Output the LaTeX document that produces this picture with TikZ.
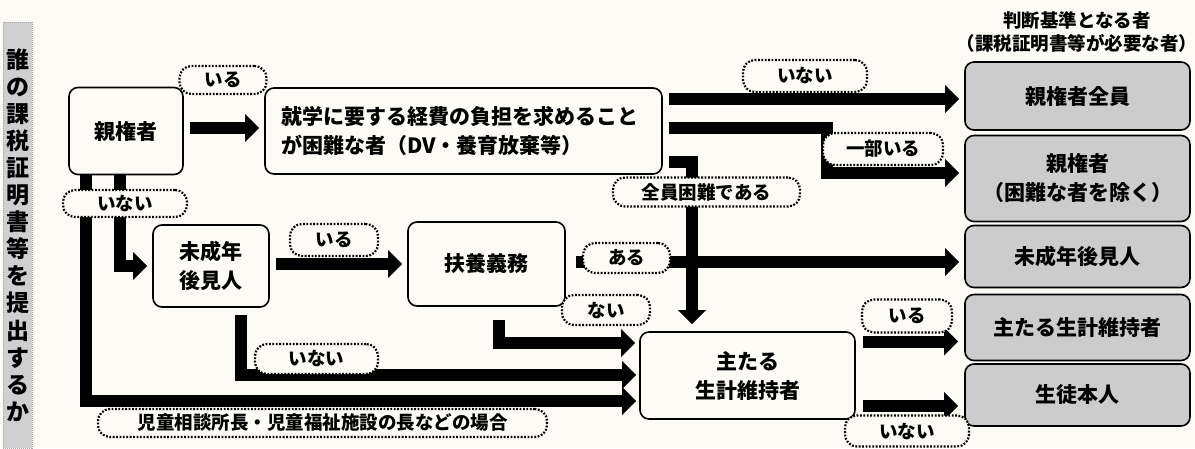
\documentclass[tikz,border=0pt]{standalone}
\usepackage{fontspec}
\setmainfont{Noto Sans CJK JP}
\usetikzlibrary{arrows.meta,calc}
\definecolor{bg}{RGB}{252,251,245}
\definecolor{gboxc}{RGB}{204,204,204}
\begin{document}
\begin{tikzpicture}[x=1pt,y=-1pt,
  box/.style={draw, line width=1.6pt, rounded corners=9pt, fill=bg, align=center, inner sep=0pt, font=\fontsize{21}{29}\selectfont\bfseries},
  gbox/.style={box, fill=gboxc, minimum width=225pt},
  lab/.style={draw, line width=2.2pt, dash pattern=on 1.8pt off 1.6pt, rounded corners=12pt, fill=bg, inner sep=0pt, font=\fontsize{18.5}{20}\selectfont\bfseries},
  arr/.style={line width=12pt, line join=miter, -{Triangle[length=14pt,width=28pt,line width=0pt]}},
]
\fill[bg] (0,0) rectangle (1195,448);
\useasboundingbox (0,0) rectangle (1195,448);

% side bar
\node[draw=gray!70, line width=1pt, dash pattern=on 1pt off 1pt, fill=gray!38, minimum width=29pt, minimum height=426pt, inner sep=0pt, align=center, font=\fontsize{23}{27.1}\selectfont\bfseries] (side) at (17.5,235) {誰\\の\\課\\税\\証\\明\\書\\等\\を\\提\\出\\す\\る\\か};

% header
\node[align=center, inner sep=0pt, font=\fontsize{18.5}{23}\selectfont\bfseries] (head) at (1077,32) {判断基準となる者\\（課税証明書等が必要な者）};

% boxes
\node[box, minimum width=114pt, minimum height=87pt] (oya) at (126,131) {親権者};
\node[box, minimum width=397pt, minimum height=86pt, text width=365pt, align=left] (konnan) at (463.5,131) {就学に要する経費の負担を求めること\\が困難な者（DV・養育放棄等）};
\node[box, minimum width=116pt, minimum height=82pt] (mise) at (211,266) {未成年\\後見人};
\node[box, minimum width=157pt, minimum height=84pt] (fuyo) at (486.5,264) {扶養義務};
\node[box, minimum width=215pt, minimum height=87pt] (shu) at (747.5,375.5) {主たる\\生計維持者};

\node[gbox, minimum height=68pt] (r1) at (1077.5,96) {親権者全員};
\node[gbox, minimum height=86pt] (r2) at (1077.5,178.5) {親権者\\（困難な者を除く）};
\node[gbox, minimum height=62pt] (r3) at (1077.5,256.5) {未成年後見人};
\node[gbox, minimum height=66pt] (r4) at (1077.5,327.5) {主たる生計維持者};
\node[gbox, minimum height=62pt] (r5) at (1077.5,395) {生徒本人};

% bend points
\coordinate (c1) at (827,128);
\coordinate (c2) at (827,173);
\coordinate (c3) at (692,162);
\coordinate (c4) at (120,266);
\coordinate (c5) at (86,401);
\coordinate (c6) at (499,343);
\coordinate (c7) at (241,375);

% connectors
\draw[arr] ($(oya.east)+(6,-3)$) -- ($(konnan.west)+(-5,-3)$);
\draw[arr] ($(konnan.east)+(6,-32)$) -- ($(konnan.east -| r1.west)+(-5,-32)$);
\draw[arr] ($(konnan.east)+(6,-3)$) -- (c1) -- (c2) -- ($(c2 -| r2.west)+(-5,0)$);
\draw[arr] ($(konnan.east |- c3)+(6,0)$) -- (c3) -- ($(c3 |- shu.north)+(0,-7)$);
\draw[arr] (oya.south -| c4) -- (c4) -- ($(mise.west)+(-5,0)$);
\draw[arr] (oya.south -| c5) -- (c5) -- ($(c5 -| shu.west)+(-3,0)$);
\draw[arr] ($(mise.east)+(6,-2)$) -- ($(fuyo.west)+(-5,0)$);
\draw[arr] ($(fuyo.east)+(10,-2)$) -- ($(fuyo.east -| r3.west)+(-5,-2)$);
\draw[arr] ($(fuyo.south -| c6)+(0,13)$) -- (c6) -- ($(c6 -| shu.west)+(-4,0)$);
\draw[arr] ($(mise.south -| c7)+(0,7)$) -- (c7) -- ($(c7 -| shu.west)+(-3,0)$);
\draw[arr] ($(shu.east |- r4.west)+(7,14)$) -- ($(r4.west)+(-6,14)$);
\draw[arr] ($(shu.east |- r5.west)+(7,11)$) -- ($(r5.west)+(-6,11)$);

% labels
\node[lab, minimum width=87pt, minimum height=28pt] (l1) at (223,80) {いる};
\node[lab, minimum width=124pt, minimum height=32pt] (l2) at (805,76) {いない};
\node[lab, minimum width=120pt, minimum height=32pt] (l3) at (883,149) {一部いる};
\node[lab, minimum width=187pt, minimum height=29pt] (l4) at (706.5,192) {全員困難である};
\node[lab, minimum width=124pt, minimum height=27pt] (l5) at (125,203.5) {いない};
\node[lab, minimum width=88pt, minimum height=32pt] (l6) at (334,240) {いる};
\node[lab, minimum width=87pt, minimum height=30pt] (l7) at (626.5,258) {ある};
\node[lab, minimum width=88pt, minimum height=30pt] (l8) at (606,310) {ない};
\node[lab, minimum width=123pt, minimum height=30pt] (l9) at (316.5,359) {いない};
\node[lab, minimum width=90pt, minimum height=33pt] (l10) at (907,316) {いる};
\node[lab, minimum width=124pt, minimum height=31pt] (l11) at (907,431) {いない};
\node[lab, minimum width=449pt, minimum height=28pt] (l12) at (322.5,423) {児童相談所長・児童福祉施設の長などの場合};
\end{tikzpicture}
\end{document}
